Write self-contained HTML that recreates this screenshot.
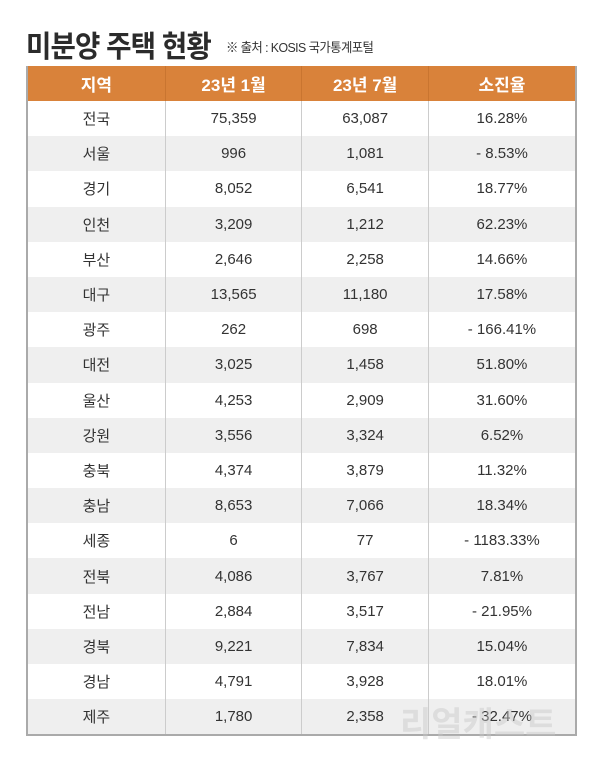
<!DOCTYPE html>
<html><head><meta charset="utf-8"><style>
body{margin:0;width:600px;height:757px;background:#fff;font-family:"Liberation Sans","Noto Sans CJK KR",sans-serif;position:relative;overflow:hidden}
#title{position:absolute;left:26px;top:22px;font-size:30px;font-weight:bold;color:#2b2b2b;letter-spacing:-1px;transform:scaleX(0.92);transform-origin:left top;white-space:nowrap}
#src{position:absolute;left:226px;top:37px;font-size:13px;color:#333;letter-spacing:-0.6px;transform:scaleX(0.95);transform-origin:left top;white-space:nowrap}
table{position:absolute;left:26px;top:66px;width:551px;border-collapse:collapse;border:2px solid #aaa;border-top:none}
th{background:#D9823A;color:#fff;font-size:17px;height:35px;font-weight:bold;border-left:1px solid #c97530;padding:0}
td{height:35.2px;font-size:15px;color:#333;text-align:center;border-left:1px solid #ccc;padding:0}
tr:nth-child(even) td{background:#efefef}
th:first-child,td:first-child{border-left:none}
#wm{position:absolute;left:400px;top:697px;font-size:34px;color:rgba(200,200,200,.45);font-weight:bold}
</style></head><body>
<div id="title">미분양 주택 현황</div>
<div id="src">※ 출처 : KOSIS 국가통계포털</div>
<table>
<colgroup><col style="width:139px"><col style="width:137px"><col style="width:127px"><col style="width:148px"></colgroup>
<thead><tr><th>지역</th><th>23년 1월</th><th>23년 7월</th><th>소진율</th></tr></thead>
<tbody id="tb"></tbody></table>
<div id="wm">리얼캐스트</div>
<script>
const regions=["전국","서울","경기","인천","부산","대구","광주","대전","울산","강원","충북","충남","세종","전북","전남","경북","경남","제주"];
const jan=["75,359","996","8,052","3,209","2,646","13,565","262","3,025","4,253","3,556","4,374","8,653","6","4,086","2,884","9,221","4,791","1,780"];
const jul=["63,087","1,081","6,541","1,212","2,258","11,180","698","1,458","2,909","3,324","3,879","7,066","77","3,767","3,517","7,834","3,928","2,358"];
const rate=["16.28%","- 8.53%","18.77%","62.23%","14.66%","17.58%","- 166.41%","51.80%","31.60%","6.52%","11.32%","18.34%","- 1183.33%","7.81%","- 21.95%","15.04%","18.01%","- 32.47%"];
const tb=document.getElementById('tb');
regions.forEach((r,i)=>{
const tr=document.createElement('tr');


[r,jan[i],jul[i],rate[i]].forEach((v,j)=>{
const td=document.createElement('td');
td.textContent=v;


tr.appendChild(td);});
tb.appendChild(tr);});
</script>
</body></html>
